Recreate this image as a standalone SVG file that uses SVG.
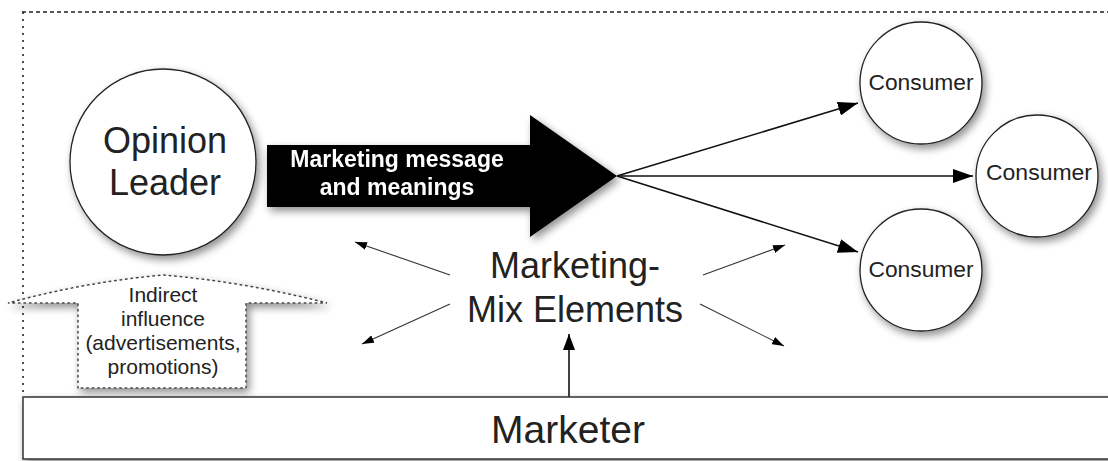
<svg xmlns="http://www.w3.org/2000/svg" width="1108" height="461" viewBox="0 0 1108 461">
  <defs>
    <style>
      .txt { font-family: "Liberation Sans", Arial, sans-serif; fill: #222; text-anchor: middle; }
      .node { fill: #fff; stroke: #222; stroke-width: 1.3; }
      .conn { stroke: #111; stroke-width: 1.6; fill: none; }
      .thin { stroke: #333; stroke-width: 1.1; fill: none; }
      .dotted { fill: #fff; stroke: #444; stroke-width: 1.5; stroke-dasharray: 1.5 4; stroke-linecap: round; }
    </style>
    <filter id="shadow" x="-20%" y="-20%" width="150%" height="150%">
      <feGaussianBlur in="SourceAlpha" stdDeviation="4"/>
      <feOffset dx="3" dy="4" result="b"/>
      <feComponentTransfer><feFuncA type="linear" slope="0.45"/></feComponentTransfer>
      <feMerge><feMergeNode/><feMergeNode in="SourceGraphic"/></feMerge>
    </filter>
    <marker id="headL" markerUnits="userSpaceOnUse" markerWidth="20" markerHeight="14" viewBox="0 0 20 14" refX="20" refY="7" orient="auto">
      <path d="M0,0 L20,7 L0,14 Z" fill="#000"/>
    </marker>
    <marker id="headS" markerUnits="userSpaceOnUse" markerWidth="12" markerHeight="8" viewBox="0 0 12 8" refX="12" refY="4" orient="auto">
      <path d="M0,0 L12,4 L0,8 Z" fill="#000"/>
    </marker>
    <marker id="headU" markerUnits="userSpaceOnUse" markerWidth="16" markerHeight="12" viewBox="0 0 16 12" refX="16" refY="6" orient="auto">
      <path d="M0,0 L16,6 L0,12 Z" fill="#000"/>
    </marker>
  </defs>

  <rect width="1108" height="461" fill="#fff"/>

  <!-- dashed frame -->
  <g id="frame">
    <line x1="22" y1="12" x2="1108" y2="12" stroke="#222" stroke-width="1.3" stroke-dasharray="4 3"/>
    <line x1="23" y1="12" x2="23" y2="396" stroke="#222" stroke-width="1.6" stroke-dasharray="2 5"/>
  </g>

  <!-- connectors -->
  <g id="connectors">
    <line class="conn" x1="617" y1="176" x2="858" y2="103" marker-end="url(#headL)"/>
    <line class="conn" x1="617" y1="176" x2="973" y2="176" marker-end="url(#headL)"/>
    <line class="conn" x1="617" y1="176" x2="858" y2="252" marker-end="url(#headL)"/>
    <line class="thin" x1="450" y1="275" x2="355" y2="242" marker-end="url(#headS)"/>
    <line class="thin" x1="450" y1="304" x2="362" y2="344" marker-end="url(#headS)"/>
    <line class="thin" x1="703" y1="275" x2="785" y2="245" marker-end="url(#headS)"/>
    <line class="thin" x1="700" y1="304" x2="784" y2="346" marker-end="url(#headS)"/>
    <line class="conn" x1="569" y1="398" x2="569" y2="334" marker-end="url(#headU)"/>
  </g>

  <!-- Marketing message arrow -->
  <g id="message-arrow" filter="url(#shadow)">
    <polygon points="267,145 530,145 530,115 617,176 530,237 530,207 267,207" fill="#000"/>
    <text x="397" y="167" style="font-family:'Liberation Sans',Arial,sans-serif;font-weight:bold;font-size:23px;fill:#fff;text-anchor:middle">Marketing message</text>
    <text x="397" y="195" style="font-family:'Liberation Sans',Arial,sans-serif;font-weight:bold;font-size:23px;fill:#fff;text-anchor:middle">and meanings</text>
  </g>

  <!-- Opinion Leader -->
  <g id="opinion-leader">
    <circle class="node" cx="163" cy="162" r="93" filter="url(#shadow)"/>
    <text class="txt" x="165" y="153" font-size="36">Opinion</text>
    <text class="txt" x="165" y="195" font-size="36">Leader</text>
  </g>

  <!-- Consumers -->
  <g id="consumer-top">
    <circle class="node" cx="921" cy="83" r="61" filter="url(#shadow)"/>
    <text class="txt" x="921" y="90" font-size="22" textLength="105" lengthAdjust="spacingAndGlyphs">Consumer</text>
  </g>
  <g id="consumer-middle">
    <circle class="node" cx="1037" cy="176" r="61" filter="url(#shadow)"/>
    <text class="txt" x="1039" y="180" font-size="22" textLength="106" lengthAdjust="spacingAndGlyphs">Consumer</text>
  </g>
  <g id="consumer-bottom">
    <circle class="node" cx="921" cy="270" r="61" filter="url(#shadow)"/>
    <text class="txt" x="921" y="277" font-size="22" textLength="105" lengthAdjust="spacingAndGlyphs">Consumer</text>
  </g>

  <!-- Marketing-Mix Elements -->
  <g id="marketing-mix">
    <text class="txt" x="575" y="278" font-size="36">Marketing-</text>
    <text class="txt" x="575" y="322" font-size="36">Mix Elements</text>
  </g>

  <!-- Indirect influence -->
  <g id="indirect-influence">
    <path class="dotted" filter="url(#shadow)" d="M78,388 L78,303 L8,303 Q85,282 163,275 Q245,282 327,303 L246,303 L246,388 Z"/>
    <text class="txt" x="163" y="302" font-size="21">Indirect</text>
    <text class="txt" x="163" y="326" font-size="21">influence</text>
    <text class="txt" x="163" y="350" font-size="21">(advertisements,</text>
    <text class="txt" x="163" y="374" font-size="21">promotions)</text>
  </g>

  <!-- Marketer -->
  <g id="marketer">
    <rect x="23" y="397" width="1100" height="62" fill="#fff" stroke="#333" stroke-width="1.5" filter="url(#shadow)"/>
    <text class="txt" x="568" y="443" font-size="39">Marketer</text>
  </g>
</svg>
